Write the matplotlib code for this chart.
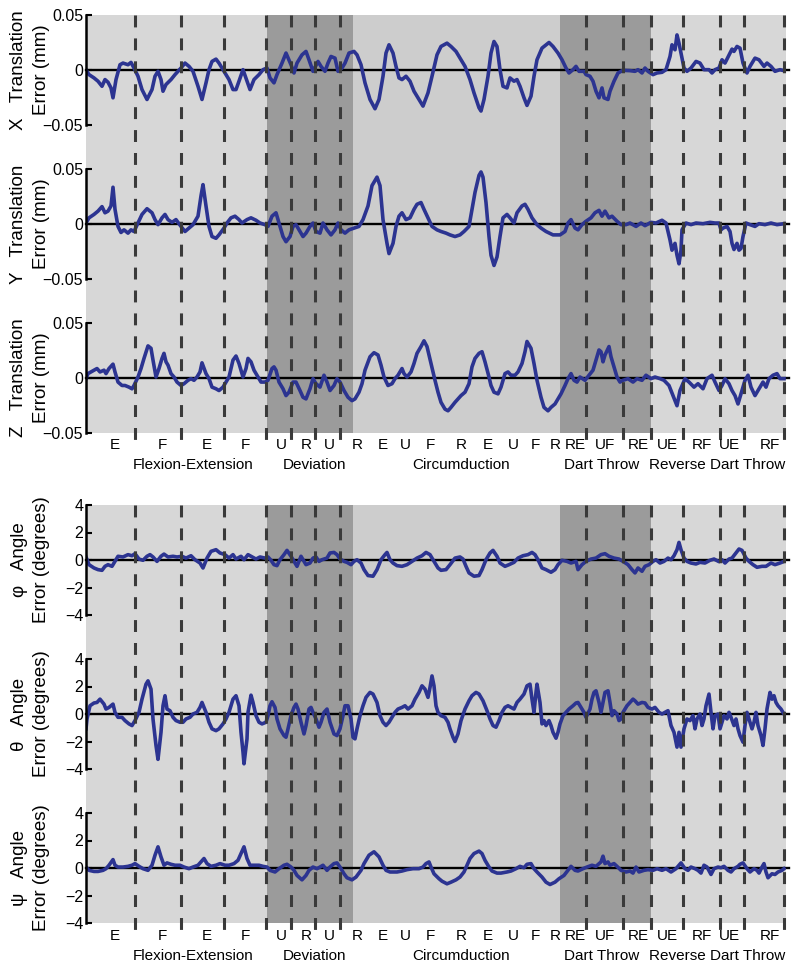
import numpy as np
import matplotlib.pyplot as plt
from matplotlib.transforms import blended_transform_factory

plt.rcParams['font.family'] = ['Liberation Sans', 'DejaVu Sans']

# time axis (samples) and motion phases
region_edges = [0, 180.6, 267, 474, 565, 700]
region_colors = ['#d7d7d7', '#9b9b9b', '#cdcdcd', '#9b9b9b', '#d7d7d7']
dash_x = [49, 95, 138, 180, 205, 229, 254, 500, 537, 565, 597, 634, 658, 698]

move_labels = ['E', 'F', 'E', 'F', 'U', 'R', 'U', 'R', 'E', 'U', 'F', 'R', 'E', 'U',
               'F', 'R', 'RE', 'UF', 'RE', 'UE', 'RF', 'UE', 'RF']
move_x = [29, 76, 121, 159, 195, 220, 243, 271, 297, 319, 344, 375, 402, 427,
          449, 469, 489, 519, 552, 581, 616, 643, 684]
group_labels = ['Flexion-Extension', 'Deviation', 'Circumduction', 'Dart Throw',
                'Reverse Dart Throw']
group_x = [107, 228, 375, 516, 631]

# translation errors (mm)
t_x = [0, 3, 8, 12, 16, 19, 22, 25, 27, 30, 34, 37, 42, 45, 48, 52, 56, 61, 66, 69, 72, 75, 77, 80,
       85, 89, 95, 99, 103, 107, 112, 116, 120, 123, 126, 130, 133, 138, 143, 147, 150, 153, 157,
       161, 164, 168, 173, 177, 181, 184, 188, 191, 196, 200, 205, 208, 211, 216, 220, 223, 227,
       232, 235, 239, 242, 245, 249, 252, 256, 259, 263, 268, 271, 275, 279, 284, 289, 293, 297,
       300, 303, 307, 310, 313, 316, 320, 324, 328, 333, 337, 342, 346, 351, 355, 361, 365, 370,
       374, 379, 384, 388, 393, 395, 398, 402, 405, 408, 411, 414, 417, 421, 424, 428, 431, 434,
       438, 441, 445, 448, 451, 456, 463, 467, 472, 476, 480, 483, 487, 490, 493, 498, 500, 504,
       507, 510, 513, 516, 518, 522, 524, 528, 532, 537, 544, 549, 552, 556, 559, 562, 567, 571,
       576, 580, 584, 586, 589, 591, 593, 595, 598, 601, 605, 610, 614, 618, 623, 626, 629, 633,
       636, 639, 644, 646, 648, 651, 654, 657, 661, 664, 669, 673, 678, 681, 685, 689, 694, 698]
err_x = [0.000, -0.0042, -0.0072, -0.0102, -0.0148, -0.0087, -0.0111, -0.0163, -0.0253, -0.0087,
         0.0048, 0.0063, 0.0048, 0.0069, 0.0018, -0.0057, -0.0178, -0.0268, -0.0178, -0.0057,
         -0.0012, -0.0087, -0.0193, -0.0132, -0.0087, -0.0042, 0.0018, 0.0063, 0.0033, -0.0012,
         -0.0148, -0.0268, -0.0117, 0.0003, 0.0078, 0.0099, 0.0063, -0.0012, -0.0087, -0.0178,
         -0.0178, -0.0102, 0.0003, -0.0102, -0.0178, -0.0087, -0.0042, 0.0003, 0.0018, -0.0072,
         -0.0117, -0.0042, 0.0063, 0.0154, 0.0048, -0.0027, 0.0063, 0.0138, 0.0169, 0.0093,
         -0.0012, 0.0078, 0.0033, -0.0012, 0.0063, 0.0123, 0.0108, -0.0012, 0.0018, 0.0063,
         0.0154, 0.0169, 0.0138, 0.0048, -0.0117, -0.0268, -0.0352, -0.0268, -0.0057, 0.0154,
         0.0229, 0.0154, 0.0033, -0.0072, -0.0087, -0.0057, -0.0102, -0.0193, -0.0268, -0.0328,
         -0.0208, -0.0057, 0.0138, 0.0214, 0.0244, 0.0214, 0.0169, 0.0108, 0.0033, -0.0087,
         -0.0208, -0.0343, -0.0373, -0.0268, -0.0057, 0.0154, 0.0259, 0.0214, 0.0003, -0.0148,
         -0.0163, -0.0072, -0.0102, -0.0087, -0.0148, -0.0253, -0.0322, -0.0238, -0.0057, 0.0093,
         0.0199, 0.0250, 0.0214, 0.0154, 0.0093, 0.0018, -0.0027, 0.0003, 0.0033, -0.0012,
         -0.0012, -0.0042, -0.0057, -0.0102, -0.0193, -0.0253, -0.0163, -0.0253, -0.0268, -0.0193,
         -0.0102, -0.0027, -0.0003, -0.0006, -0.0012, 0.0003, -0.0027, 0.0018, -0.0012, -0.0042,
         -0.0027, -0.0021, 0.0003, 0.0123, 0.0229, 0.0184, 0.0319, 0.0244, 0.0154, 0.0018,
         -0.0012, 0.0018, 0.0078, 0.0063, 0.0003, 0.0003, -0.0027, 0.0003, 0.0018, 0.0093, 0.0063,
         0.0154, 0.0190, 0.0169, 0.0214, 0.0199, 0.0063, -0.0027, 0.0033, 0.0108, 0.0093, 0.0033,
         0.0063, 0.0033, -0.0012, 0.0003, -0.0006]

t_y = [0, 3, 8, 12, 16, 19, 22, 25, 27, 29, 32, 35, 38, 42, 45, 48, 52, 56, 61, 66, 69, 72, 76, 79,
       82, 86, 90, 95, 99, 103, 107, 112, 115, 117, 120, 123, 126, 130, 133, 138, 141, 145, 149,
       153, 156, 161, 165, 170, 174, 179, 182, 186, 190, 193, 197, 200, 204, 207, 210, 214, 217,
       220, 224, 227, 230, 234, 237, 241, 245, 249, 252, 255, 259, 263, 268, 273, 277, 282, 286,
       291, 294, 297, 301, 303, 307, 310, 313, 316, 320, 324, 328, 331, 335, 338, 342, 346, 351,
       355, 360, 364, 369, 374, 378, 383, 386, 389, 393, 395, 397, 400, 403, 405, 408, 411, 414,
       417, 421, 424, 428, 431, 436, 439, 442, 446, 451, 455, 460, 467, 474, 479, 482, 485, 489,
       492, 496, 500, 505, 509, 513, 516, 519, 523, 526, 531, 535, 540, 544, 550, 555, 559, 565,
       570, 576, 580, 584, 586, 589, 591, 593, 595, 596, 600, 605, 610, 617, 624, 629, 633, 635,
       637, 641, 644, 646, 648, 651, 653, 655, 657, 660, 664, 669, 673, 679, 685, 691, 698]
err_y = [0.0009, 0.0056, 0.0087, 0.0117, 0.0158, 0.0102, 0.0117, 0.0164, 0.0334, 0.0133, -0.0022,
         -0.0077, -0.0053, -0.0083, -0.0053, -0.0068, 0.0009, 0.0087, 0.0139, 0.0102, 0.0040,
         -0.0006, 0.0056, 0.0087, 0.0040, 0.0015, 0.0040, -0.0022, -0.0068, -0.0037, -0.0006,
         0.0071, 0.0256, 0.0358, 0.0164, -0.0022, -0.0114, -0.0130, -0.0099, -0.0037, 0.0009,
         0.0056, 0.0071, 0.0040, 0.0009, 0.0040, 0.0056, 0.0034, 0.0009, -0.0006, -0.0022, 0.0071,
         0.0102, 0.0009, -0.0114, -0.0161, -0.0114, -0.0022, -0.0006, -0.0068, -0.0114, -0.0083,
         -0.0022, 0.0009, -0.0068, -0.0083, 0.0009, -0.0053, -0.0099, -0.0053, 0.0009, -0.0053,
         -0.0083, -0.0053, -0.0037, -0.0022, 0.0040, 0.0164, 0.0349, 0.0426, 0.0349, 0.0040,
         -0.0176, -0.0269, -0.0176, -0.0022, 0.0071, 0.0102, 0.0040, 0.0056, 0.0133, 0.0179,
         0.0195, 0.0133, 0.0056, -0.0022, -0.0053, -0.0068, -0.0083, -0.0099, -0.0114, -0.0099,
         -0.0068, -0.0022, 0.0133, 0.0287, 0.0442, 0.0473, 0.0426, 0.0195, -0.0114, -0.0284,
         -0.0377, -0.0300, -0.0114, 0.0056, 0.0087, 0.0056, 0.0009, 0.0102, 0.0164, 0.0179,
         0.0133, 0.0056, -0.0006, -0.0037, -0.0068, -0.0099, -0.0099, -0.0068, 0.0009, 0.0040,
         -0.0037, -0.0053, -0.0006, 0.0025, 0.0056, 0.0102, 0.0124, 0.0071, 0.0117, 0.0056, 0.0071,
         0.0025, -0.0006, -0.0006, 0.0009, -0.0022, 0.0009, -0.0015, 0.0015, 0.0009, 0.0034,
         0.0009, -0.0145, -0.0238, -0.0176, -0.0284, -0.0362, -0.0238, -0.0053, 0.0009, -0.0006,
         0.0009, 0.0003, 0.0015, 0.0009, 0.0009, -0.0053, -0.0037, -0.0022, -0.0068, -0.0176,
         -0.0232, -0.0176, -0.0238, -0.0222, -0.0114, 0.0009, -0.0006, -0.0022, 0.0003, -0.0006,
         0.0009, -0.0006, 0.0003]

t_z = [0, 2, 5, 8, 11, 14, 18, 20, 23, 27, 29, 32, 36, 39, 43, 46, 48, 52, 55, 58, 62, 65, 67, 70,
       73, 76, 78, 80, 82, 85, 88, 91, 95, 98, 102, 105, 108, 111, 114, 116, 120, 123, 126, 130,
       133, 137, 140, 143, 147, 150, 153, 157, 160, 162, 165, 168, 172, 175, 179, 182, 186, 188,
       190, 193, 197, 200, 203, 207, 210, 214, 217, 220, 224, 227, 230, 234, 238, 241, 244, 248,
       251, 254, 258, 262, 266, 269, 273, 276, 279, 284, 288, 292, 295, 298, 302, 306, 309, 312,
       316, 318, 321, 325, 328, 331, 335, 338, 341, 345, 349, 352, 355, 359, 362, 365, 369, 372,
       375, 379, 383, 386, 389, 393, 396, 399, 403, 405, 408, 412, 415, 419, 422, 425, 429, 432,
       436, 439, 441, 445, 448, 451, 455, 458, 462, 465, 469, 472, 475, 479, 482, 485, 488, 491,
       494, 499, 503, 507, 510, 513, 515, 517, 519, 523, 525, 528, 531, 534, 537, 542, 547, 551,
       556, 560, 565, 569, 574, 578, 583, 587, 591, 594, 599, 603, 608, 612, 617, 621, 626, 629,
       633, 636, 639, 643, 646, 649, 652, 655, 659, 662, 665, 669, 673, 677, 680, 683, 687, 691,
       694, 698]
err_z = [-0.0006, 0.0040, 0.0055, 0.0071, 0.0086, 0.0055, 0.0071, 0.0040, 0.0086, 0.0126, 0.0055,
         -0.0037, -0.0068, -0.0068, -0.0083, -0.0098, -0.0068, 0.0009, 0.0086, 0.0178, 0.0292,
         0.0270, 0.0163, 0.0009, 0.0086, 0.0178, 0.0224, 0.0147, 0.0117, 0.0040, 0.0009, -0.0037,
         -0.0068, -0.0052, -0.0021, -0.0006, -0.0021, 0.0009, 0.0055, 0.0138, 0.0040, -0.0006,
         -0.0083, -0.0098, -0.0114, -0.0083, -0.0037, 0.0009, 0.0163, 0.0200, 0.0132, 0.0009,
         0.0086, 0.0178, 0.0147, 0.0071, 0.0009, -0.0037, -0.0037, -0.0021, 0.0086, 0.0101,
         0.0071, -0.0037, -0.0098, -0.0160, -0.0129, -0.0037, -0.0037, -0.0114, -0.0175, -0.0190,
         -0.0098, -0.0006, -0.0052, -0.0083, 0.0025, -0.0037, -0.0114, -0.0068, -0.0006, -0.0037,
         -0.0114, -0.0175, -0.0206, -0.0190, -0.0129, -0.0052, 0.0071, 0.0193, 0.0230, 0.0209,
         0.0117, 0.0009, -0.0068, -0.0052, -0.0006, 0.0025, 0.0086, 0.0040, 0.0009, 0.0055, 0.0132,
         0.0224, 0.0286, 0.0338, 0.0286, 0.0132, -0.0021, -0.0129, -0.0221, -0.0283, -0.0298,
         -0.0267, -0.0221, -0.0190, -0.0160, -0.0129, -0.0052, 0.0101, 0.0178, 0.0224, 0.0239,
         0.0147, 0.0009, -0.0068, -0.0129, -0.0144, -0.0083, 0.0040, 0.0055, 0.0025, 0.0025,
         0.0055, 0.0132, 0.0239, 0.0332, 0.0270, 0.0132, -0.0021, -0.0175, -0.0267, -0.0298,
         -0.0267, -0.0236, -0.0190, -0.0144, -0.0068, -0.0006, 0.0040, -0.0021, -0.0037, 0.0009,
         -0.0021, 0.0025, 0.0071, 0.0163, 0.0255, 0.0239, 0.0147, 0.0209, 0.0286, 0.0193, 0.0101,
         0.0009, -0.0037, -0.0021, -0.0006, -0.0037, -0.0006, -0.0021, 0.0025, -0.0006, 0.0009,
         -0.0006, -0.0021, -0.0068, -0.0160, -0.0252, -0.0114, -0.0006, -0.0037, -0.0083, -0.0052,
         -0.0098, -0.0006, 0.0025, -0.0037, -0.0114, -0.0068, -0.0006, -0.0052, -0.0114, -0.0160,
         -0.0236, -0.0144, -0.0021, 0.0025, -0.0083, -0.0160, -0.0098, -0.0037, -0.0083, -0.0006,
         0.0025, 0.0040, -0.0006, -0.0006]

# angular errors (degrees)
t_phi = [0, 3, 8, 12, 16, 19, 22, 26, 29, 32, 37, 42, 46, 49, 53, 57, 61, 64, 67, 71, 75, 78, 82,
         87, 91, 96, 100, 105, 109, 114, 117, 121, 125, 130, 134, 139, 143, 147, 150, 155, 158,
         162, 165, 170, 174, 179, 182, 185, 188, 191, 194, 198, 201, 205, 208, 211, 215, 217, 220,
         224, 227, 230, 233, 236, 241, 244, 248, 251, 254, 258, 261, 265, 268, 271, 275, 278, 282,
         287, 291, 295, 299, 301, 304, 307, 311, 316, 321, 326, 331, 336, 340, 344, 347, 352, 355,
         360, 364, 369, 374, 377, 380, 383, 388, 393, 396, 400, 404, 407, 411, 414, 419, 423, 428,
         432, 437, 442, 446, 449, 452, 456, 460, 465, 469, 472, 476, 481, 485, 490, 492, 496, 500,
         505, 510, 515, 519, 523, 528, 533, 537, 542, 546, 549, 552, 556, 559, 563, 567, 570, 574,
         578, 582, 585, 588, 591, 593, 595, 598, 601, 605, 610, 614, 619, 624, 628, 633, 636, 639,
         643, 646, 650, 653, 656, 660, 663, 667, 671, 676, 680, 685, 689, 694, 698]
err_phi = [0.22, -0.34, -0.58, -0.70, -0.75, -0.46, -0.34, -0.46, -0.10, 0.27, 0.22, 0.39, 0.31,
           0.46, 0.07, -0.02, 0.27, 0.39, 0.22, -0.10, 0.27, 0.43, 0.22, 0.27, 0.22, 0.27, 0.14,
           0.31, 0.02, -0.22, -0.58, 0.14, 0.63, 0.75, 0.51, 0.39, 0.14, 0.39, 0.07, 0.27, 0.02,
           0.39, 0.27, 0.07, 0.22, 0.14, 0.22, -0.02, -0.34, -0.41, 0.02, 0.39, 0.70, 0.27, -0.10,
           -0.46, 0.27, 0.02, -0.34, -0.22, 0.14, 0.22, -0.10, 0.02, 0.14, 0.51, 0.55, 0.39, 0.07,
           -0.10, -0.17, -0.34, -0.10, 0.02, -0.22, -0.70, -1.13, -1.18, -0.70, 0.02, 0.39, 0.55,
           0.02, -0.22, -0.41, -0.46, -0.34, -0.10, 0.14, 0.31, 0.55, 0.39, 0.02, -0.58, -0.75,
           -0.70, -0.34, 0.14, 0.22, 0.07, -0.46, -0.94, -1.18, -1.13, -0.70, 0.02, 0.51, 0.70,
           0.27, -0.22, -0.46, -0.34, -0.17, 0.14, 0.31, 0.39, 0.55, 0.39, 0.02, -0.58, -0.70,
           -0.89, -0.70, -0.34, -0.02, -0.10, -0.22, -0.10, -0.70, -0.34, -0.10, 0.07, 0.14, 0.39,
           0.46, 0.27, 0.14, 0.07, -0.10, -0.34, -0.70, -0.94, -0.58, -0.82, -0.46, -0.34, -0.10,
           0.02, -0.22, -0.10, 0.14, 0.02, 0.31, 0.75, 1.28, 0.75, 0.14, -0.10, -0.22, -0.29, -0.17,
           -0.22, -0.02, 0.07, -0.12, 0.02, -0.22, 0.07, 0.14, 0.51, 0.80, 0.70, 0.14, -0.10, -0.34,
           -0.53, -0.46, -0.46, -0.22, -0.34, -0.22, -0.10]

t_theta = [0, 1, 4, 8, 11, 14, 18, 20, 23, 27, 29, 32, 36, 39, 43, 46, 49, 53, 56, 60, 62, 65, 67,
           70, 72, 75, 77, 79, 81, 84, 87, 90, 94, 97, 100, 104, 107, 111, 114, 116, 120, 123, 126,
           130, 133, 137, 140, 143, 147, 150, 153, 155, 157, 158, 161, 162, 165, 167, 170, 173, 176,
           180, 182, 184, 186, 189, 191, 194, 198, 200, 202, 205, 208, 210, 212, 215, 218, 220, 223,
           225, 227, 230, 233, 235, 238, 241, 244, 248, 251, 254, 257, 259, 262, 265, 267, 269, 271,
           274, 277, 280, 284, 287, 291, 294, 297, 300, 303, 306, 309, 312, 316, 319, 322, 326, 329,
           333, 336, 339, 342, 344, 346, 348, 350, 352, 355, 359, 362, 364, 367, 369, 372, 375, 379,
           383, 386, 390, 393, 397, 401, 404, 407, 410, 413, 416, 419, 422, 425, 428, 431, 434, 438,
           441, 444, 446, 448, 450, 451, 454, 456, 458, 460, 463, 465, 467, 470, 472, 474, 477, 480,
           483, 487, 490, 492, 495, 498, 500, 504, 506, 508, 510, 513, 515, 517, 519, 522, 524, 526,
           528, 531, 533, 535, 537, 541, 544, 547, 549, 552, 556, 559, 562, 566, 569, 573, 576, 579,
           582, 585, 588, 591, 593, 595, 598, 601, 604, 607, 609, 611, 614, 616, 618, 620, 623, 625,
           627, 629, 632, 634, 636, 638, 641, 643, 645, 648, 650, 652, 654, 657, 659, 661, 663, 666,
           668, 670, 672, 675, 677, 679, 681, 684, 686, 688, 690, 692, 695, 698]
err_theta = [-1.08, -0.36, 0.60, 0.80, 0.84, 1.08, 0.72, 0.36, 0.48, 0.72, 0.12, -0.24, -0.24,
             -0.48, -0.72, -0.84, -0.48, 0.12, 1.08, 2.17, 2.41, 1.81, -0.36, -2.29, -3.30, -1.33,
             0.60, 1.33, 0.36, 0.24, -0.24, -0.48, -0.60, -0.60, -0.36, -0.24, 0.00, 0.12, 0.48,
             0.84, 0.12, -0.60, -1.08, -1.21, -1.08, -0.72, -0.36, 0.12, 1.08, 1.33, 0.60, -1.33,
             -2.77, -3.62, -1.81, 0.12, 1.37, 0.84, -0.12, -0.60, -0.72, -0.60, -0.12, 0.60, 0.89,
             0.48, -0.36, -1.08, -1.57, -1.69, -1.08, -0.12, 0.48, 0.72, 0.36, -0.60, -1.45, -0.84,
             0.36, 0.48, 0.12, -0.36, -0.96, -0.60, 0.12, 0.36, -0.60, -1.45, -1.57, -1.08, -0.12,
             0.60, 0.60, -0.36, -1.69, -1.81, -1.08, -0.12, 0.60, 1.21, 1.57, 1.45, 0.84, -0.12,
             -0.60, -0.84, -0.60, -0.24, 0.12, 0.36, 0.48, 0.60, 0.36, 0.60, 1.08, 1.57, 2.05, 1.81,
             1.21, 1.93, 2.77, 2.05, 0.60, 0.12, -0.12, -0.24, -0.60, -1.08, -1.69, -2.00, -1.45,
             -0.48, 0.36, 0.96, 1.33, 1.57, 1.45, 0.96, 0.24, -0.36, -0.84, -0.96, -0.48, 0.12, 0.48,
             0.60, 0.48, 0.36, 0.84, 1.08, 1.45, 2.05, 2.17, 1.08, 0.12, 1.57, 2.17, 0.84, -0.72,
             -0.48, -0.84, -0.48, -0.84, -1.33, -1.76, -1.33, -0.72, -0.12, 0.12, 0.36, 0.60, 0.80,
             0.84, 0.48, 0.12, -0.24, 0.36, 1.08, 1.57, 1.69, 0.84, 0.12, 0.84, 1.57, 1.69, 0.84,
             -0.12, 0.24, 0.00, -0.48, -0.36, 0.12, 0.60, 0.84, 1.08, 0.96, 0.72, 0.84, 0.80, 0.48,
             0.36, 0.48, 0.12, 0.00, 0.12, 0.24, -0.84, -1.33, -2.41, -1.33, -2.41, -1.08, -0.36,
             -0.48, -0.12, -1.08, -0.36, 0.00, -0.84, -0.36, 0.60, 1.45, 0.12, -1.08, -0.12, 0.00,
             -1.08, -0.60, -0.12, -0.36, 0.12, -0.24, -0.84, -0.36, -1.08, -1.57, -2.05, -0.84, 0.12,
             -0.36, -1.08, -0.60, 0.12, -0.84, -1.57, -2.29, -1.08, 0.36, 1.57, 1.08, 1.33, 0.84,
             0.60, 0.36, 0.00]

t_psi = [0, 3, 8, 12, 17, 20, 23, 27, 29, 32, 37, 42, 46, 49, 53, 57, 62, 66, 69, 72, 75, 78, 81,
         85, 89, 94, 98, 103, 107, 112, 115, 118, 121, 125, 130, 134, 139, 143, 148, 152, 155, 158,
         161, 164, 168, 173, 177, 181, 184, 189, 193, 198, 201, 205, 208, 211, 216, 220, 223, 227,
         231, 234, 237, 241, 244, 248, 251, 254, 258, 261, 266, 270, 275, 278, 283, 288, 293, 297,
         300, 304, 311, 316, 321, 327, 333, 337, 340, 343, 345, 348, 353, 356, 361, 365, 370, 374,
         378, 381, 384, 388, 393, 396, 399, 403, 406, 411, 415, 421, 425, 430, 434, 438, 441, 445,
         448, 451, 456, 460, 464, 469, 473, 478, 482, 485, 489, 492, 497, 501, 506, 510, 515, 517,
         519, 522, 524, 528, 531, 535, 540, 544, 547, 550, 553, 558, 562, 567, 571, 576, 580, 585,
         590, 593, 595, 599, 602, 605, 609, 612, 615, 618, 621, 625, 628, 632, 635, 638, 642, 645,
         648, 652, 654, 657, 661, 664, 668, 671, 673, 676, 678, 680, 682, 686, 689, 692, 696, 698]
err_psi = [0.07, -0.17, -0.25, -0.25, -0.17, -0.05, 0.20, 0.61, 0.20, 0.07, 0.07, 0.12, 0.20, 0.32,
           0.12, -0.05, -0.17, 0.20, 0.93, 1.54, 0.81, 0.20, 0.37, 0.27, 0.20, 0.20, 0.07, -0.05,
           0.07, 0.20, 0.44, 0.69, 0.32, 0.12, 0.20, 0.32, 0.20, 0.20, 0.32, 0.56, 1.05, 1.54, 0.69,
           0.20, 0.20, 0.20, 0.12, 0.07, -0.17, -0.29, -0.05, 0.20, 0.27, 0.07, -0.17, -0.54, -0.86,
           -0.54, -0.17, 0.07, -0.05, 0.07, 0.20, -0.17, 0.07, 0.32, 0.37, 0.07, -0.42, -0.71,
           -0.86, -0.66, -0.17, 0.32, 0.93, 1.18, 0.81, 0.20, -0.17, -0.29, -0.29, -0.22, -0.12,
           -0.05, -0.05, 0.07, 0.32, 0.44, 0.07, -0.42, -0.78, -0.96, -1.15, -1.03, -0.86, -0.66,
           -0.29, 0.20, 0.69, 1.05, 1.23, 1.05, 0.56, 0.07, -0.22, -0.37, -0.37, -0.29, -0.22,
           -0.05, 0.12, 0.02, 0.27, 0.32, -0.05, -0.29, -0.66, -1.03, -1.20, -1.03, -0.78, -0.54,
           -0.17, 0.12, -0.17, -0.22, -0.05, 0.07, 0.20, 0.12, 0.44, 0.86, 0.32, 0.44, 0.20, 0.32,
           0.12, -0.17, -0.29, -0.22, -0.37, 0.07, -0.29, -0.17, -0.12, -0.17, -0.05, -0.17, -0.05,
           -0.29, -0.05, 0.20, 0.37, -0.05, -0.17, 0.07, -0.05, -0.17, -0.37, 0.20, 0.07, -0.47,
           -0.05, 0.07, 0.02, 0.12, -0.17, -0.29, -0.05, 0.12, 0.27, 0.37, -0.05, -0.29, -0.05,
           -0.17, -0.37, 0.07, 0.32, -0.29, -0.71, -0.42, -0.47, -0.29, -0.17, -0.05]

line_blue = '#2c3491'
W, H = 800, 969


def rect(top, bottom):
    return [86 / W, 1 - bottom / H, 700 / W, (bottom - top) / H]


fig = plt.figure(figsize=(8, 9.69), dpi=100)


def draw_block(top, shade_bottom, dash_bottom, panels, label_y, group_y):
    bg = fig.add_axes(rect(top, dash_bottom))
    bg.set_xlim(0, 700)
    bg.set_ylim(0, 1)
    bg.axis('off')
    frac = (dash_bottom - shade_bottom) / (dash_bottom - top)
    for i, c in enumerate(region_colors):
        bg.axvspan(region_edges[i], region_edges[i + 1], ymin=frac, ymax=1, color=c, lw=0)

    for ptop, t, e, ylim, ticks, labels, name, unit in panels:
        ax = fig.add_axes(rect(ptop, ptop + 110))
        ax.patch.set_visible(False)
        ax.plot([0, 703], [0, 0], color='black', lw=1.7, clip_on=False)
        ax.plot(t, e, color=line_blue, lw=2.6, solid_joinstyle='round')
        ax.set_xlim(0, 700)
        ax.set_ylim(*ylim)
        for s in ['top', 'right', 'bottom']:
            ax.spines[s].set_visible(False)
        ax.spines['left'].set_linewidth(1.8)
        ax.set_xticks([])
        ax.set_yticks(ticks)
        ax.set_yticklabels(labels)
        ax.tick_params(axis='y', direction='in', length=4, width=1.5, pad=2, labelsize=11.5)
        cy = 1 - (ptop + 55) / H
        fig.text(42 / W, cy, unit, rotation=90, ha='center', va='center', fontsize=13.5)
        fig.text(19 / W, cy, name, rotation=90, ha='center', va='center', fontsize=13.5)

    ov = fig.add_axes(rect(top, dash_bottom))
    ov.set_xlim(0, 700)
    ov.set_ylim(0, 1)
    ov.axis('off')
    for x in dash_x:
        ov.plot([x, x], [1, 0], color='#3a3a3a', lw=2.2, linestyle=(0, (3.9, 3.6)),
                solid_capstyle='butt', clip_on=False)

    tr = blended_transform_factory(bg.transData, fig.transFigure)
    for lab, x in zip(move_labels, move_x):
        fig.text(x, 1 - label_y / H, lab, transform=tr, ha='center', va='center', fontsize=11)
    for lab, x in zip(group_labels, group_x):
        fig.text(x, 1 - group_y / H, lab, transform=tr, ha='center', va='center', fontsize=11)


trans_ticks = [-0.05, 0, 0.05]
trans_labels = ['\u22120.05', '0', '0.05']
ang_ticks = [-4, -2, 0, 2, 4]
ang_labels = ['\u22124', '\u22122', '0', '2', '4']

draw_block(15, 433, 444, [
    (15, t_x, err_x, (-0.05, 0.05), trans_ticks, trans_labels, 'X   Translation', 'Error (mm)'),
    (169, t_y, err_y, (-0.05, 0.05), trans_ticks, trans_labels, 'Y   Translation', 'Error (mm)'),
    (323, t_z, err_z, (-0.05, 0.05), trans_ticks, trans_labels, 'Z   Translation', 'Error (mm)'),
], 445, 465)

draw_block(505, 923, 935, [
    (505, t_phi, err_phi, (-4, 4), ang_ticks, ang_labels, '\u03c6   Angle', 'Error (degrees)'),
    (659, t_theta, err_theta, (-4, 4), ang_ticks, ang_labels, '\u03b8   Angle', 'Error (degrees)'),
    (813, t_psi, err_psi, (-4, 4), ang_ticks, ang_labels, '\u03c8   Angle', 'Error (degrees)'),
], 936, 956)

fig.savefig('out.png', dpi=100)
